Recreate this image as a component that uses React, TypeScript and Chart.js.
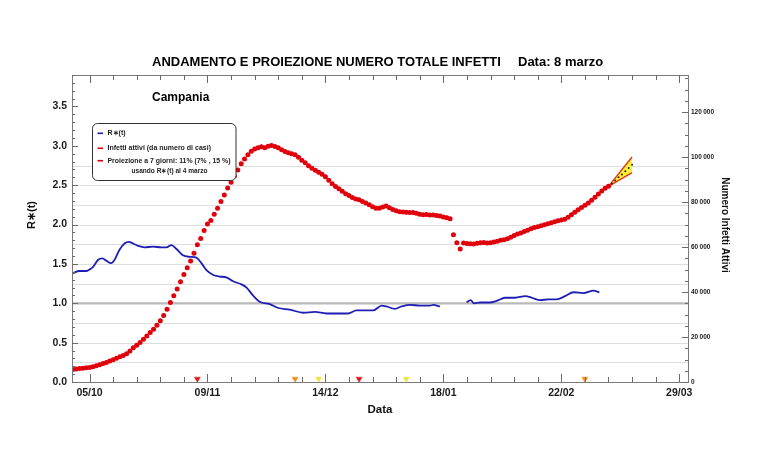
import React, { useEffect, useRef } from "react";
import { Chart, registerables } from "chart.js";

Chart.register(...registerables);

// ---- text ----
const TITLE = "ANDAMENTO E PROIEZIONE NUMERO TOTALE INFETTI";
const TITLE_DATE = "Data: 8 marzo";
const REGION = "Campania";
const X_TITLE = "Data";
const Y_TITLE = "R\u2217(t)";
const Y2_TITLE = "Numero Infetti Attivi";
const LEGEND_R = "R\u2217(t)";
const LEGEND_ACTIVE = "Infetti attivi (da numero di casi)";
const LEGEND_PROJ = "Proiezione a 7 giorni: 11% (7% , 15 %)";
const LEGEND_PROJ_2 = "usando R\u2217(t) al 4 marzo";

// ---- x axis: days counted from 05/10 ----
const X_MIN = -5.2;
const X_MAX = 177.6;
const X_TICK_DAYS = [0, 35, 70, 105, 140, 175];
const X_TICK_LABELS = ["05/10", "09/11", "14/12", "18/01", "22/02", "29/03"];

// ---- left axis (R) ----
const Y_TICKS = [0, 0.5, 1, 1.5, 2, 2.5, 3, 3.5];
const Y_MAX = 3.9;
// ---- right axis (active cases, thousands) ----
const Y2_TICKS = [0, 20, 40, 60, 80, 100, 120];
const Y2_MAX = 136.5;

// ---- active infections, one value per day (thousands) ----
const ACTIVE_FIRST_DAY = -5;
const ACTIVE = [
  5.6, 5.8, 6.0, 6.1, 6.3, 6.5, 6.8, 7.2, 7.7, 8.2,
  8.7, 9.3, 9.9, 10.6, 11.2, 11.8, 12.6, 13.8, 15.2, 16.3,
  17.6, 19.0, 20.5, 22.0, 23.5, 25.2, 27.2, 29.6, 32.4, 35.3,
  38.4, 41.4, 44.6, 47.8, 50.8, 53.8, 57.3, 61.0, 63.8, 67.4,
  70.3, 71.8, 74.6, 77.2, 80.3, 83.2, 86.3, 88.8, 91.6, 94.3,
  97.0, 99.2, 101.0, 102.6, 103.6, 104.2, 104.6, 104.2, 104.8, 105.1,
  104.7, 104.1, 103.3, 102.5, 101.9, 101.5, 101.0, 99.9, 98.6, 97.5,
  96.2, 95.0, 94.1, 93.3, 92.4, 91.3, 89.7, 88.2, 86.9, 85.9,
  84.8, 83.7, 82.9, 82.0, 81.4, 81.0, 80.3, 79.6, 78.8, 77.9,
  77.3, 77.2, 77.8, 78.3, 77.5, 76.7, 76.1, 75.7, 75.6, 75.5,
  75.4, 75.4, 75.0, 74.6, 74.4, 74.5, 74.3, 74.3, 74.0, 73.8,
  73.4, 73.0, 72.6, 65.5, 61.9, 59.1, 61.8, 61.6, 61.5, 61.4,
  61.7, 61.9, 62.0, 61.8, 61.9, 62.2, 62.6, 63.0, 63.3, 63.7,
  64.4, 65.1, 65.8, 66.3, 66.9, 67.5, 68.1, 68.7, 69.0, 69.5,
  69.9, 70.4, 70.8, 71.3, 71.7, 72.0, 72.4, 73.3, 74.4, 75.5,
  76.6, 77.6, 78.6, 79.6, 80.8, 82.2, 83.6, 84.9, 86.2, 87.0,
];

// ---- R*(t) ----
const R_DAYS = [
  -5, -3, -1, 0, 1, 2.5, 3.8, 5, 6.4, 7.4, 8.9, 10.4, 11.7, 12.9, 14.4, 16.3,
  18.8, 21.3, 22.8, 24.3, 25.8, 27.7, 29.7, 31.7, 33.2, 34.7, 36.7, 38.6, 40.6,
  42.6, 45.1, 46.6, 48.5, 50.5, 53.5, 56, 59.4, 63.4, 66.9, 70.3, 73.3, 76.7,
  79.2, 82.2, 84.2, 86.7, 88.1, 90.6, 92.6, 95.1, 98, 101, 102, 104,
  108,
  111.9, 113.1, 114.1, 115.9, 118.8, 120.8, 123.3, 126.3, 129.3, 131.3, 133.7,
  136.2, 138.6, 141.1, 143.6, 146.6, 149.5, 151.3,
];
const R_VALUES = [
  1.38, 1.41, 1.41, 1.43, 1.46, 1.55, 1.57, 1.54, 1.51, 1.55, 1.68, 1.76, 1.78, 1.76, 1.73, 1.71,
  1.72, 1.71, 1.71, 1.74, 1.69, 1.61, 1.59, 1.58, 1.51, 1.42, 1.36, 1.34, 1.33,
  1.28, 1.24, 1.2, 1.1, 1.02, 0.99, 0.94, 0.92, 0.88, 0.89, 0.87, 0.87, 0.87,
  0.91, 0.91, 0.91, 0.97, 0.96, 0.93, 0.96, 0.98, 0.97, 0.97, 0.98, 0.96,
  null,
  1.01, 1.04, 1.0, 1.01, 1.01, 1.03, 1.07, 1.07, 1.09, 1.07, 1.04,
  1.05, 1.05, 1.09, 1.14, 1.13, 1.16, 1.14,
];

// ---- 7-day projection ----
const PROJ_DAYS = 7;
const PROJ_LOW = 0.07;
const PROJ_HIGH = 0.15;
const PROJ_MID = [88.3, 89.6, 91.0, 92.3, 93.7, 95.1, 96.6];

// ---- restriction markers ----
const MARK_DAYS = [32, 61, 68, 80, 94, 147];
const MARK_COLORS = ["#e3101e", "#f08a1c", "#ece43a", "#e3101e", "#ece43a", "#f08a1c"];

const FONT = "'Liberation Sans', Arial, Helvetica, sans-serif";
const RED = "#e0000c";
const BLUE = "#1e1eb4";

const framePlugin = {
  id: "frame",
  beforeDatasetsDraw(chart: any) {
    const { ctx, chartArea: a, scales } = chart;
    const y = scales.y;
    ctx.save();
    for (let v = 0.25; v <= 2.76; v += 0.25) {
      if (Math.abs(v - 1) < 1e-6) continue;
      const py = Math.round(y.getPixelForValue(v)) + 0.5;
      ctx.strokeStyle = "#dedede";
      ctx.lineWidth = 1;
      ctx.beginPath();
      ctx.moveTo(a.left, py);
      ctx.lineTo(a.right, py);
      ctx.stroke();
    }
    const p1 = y.getPixelForValue(1);
    ctx.strokeStyle = "#b9b9b9";
    ctx.lineWidth = 2.2;
    ctx.beginPath();
    ctx.moveTo(a.left, p1);
    ctx.lineTo(a.right, p1);
    ctx.stroke();
    ctx.restore();
  },
  afterDatasetsDraw(chart: any) {
    const { ctx, chartArea: a, scales } = chart;
    const x = scales.x;
    const y = scales.y;
    const y2 = scales.y2;
    ctx.save();

    // frame
    ctx.strokeStyle = "#7a7a7a";
    ctx.lineWidth = 1;
    ctx.strokeRect(Math.round(a.left) + 0.5, Math.round(a.top) + 0.5, Math.round(a.right - a.left), Math.round(a.bottom - a.top));

    // x ticks, every week; longer at labelled dates
    ctx.strokeStyle = "#6a6a6a";
    for (let d = 0; d <= X_MAX; d += 7) {
      const px = Math.round(x.getPixelForValue(d)) + 0.5;
      const len = d % 35 === 0 ? 8 : 5;
      ctx.beginPath();
      ctx.moveTo(px, a.bottom);
      ctx.lineTo(px, a.bottom - len);
      ctx.moveTo(px, a.top);
      ctx.lineTo(px, a.top + len);
      ctx.stroke();
    }
    // left ticks
    for (let i = 0; i <= 39; i++) {
      const v = i / 10;
      const py = Math.round(y.getPixelForValue(v)) + 0.5;
      const len = i % 5 === 0 ? 6 : 3;
      ctx.beginPath();
      ctx.moveTo(a.left, py);
      ctx.lineTo(a.left + len, py);
      ctx.stroke();
    }
    // right ticks
    for (let v = 0; v <= Y2_MAX; v += 5) {
      const py = Math.round(y2.getPixelForValue(v)) + 0.5;
      const len = v % 20 === 0 ? 6 : 3;
      ctx.beginPath();
      ctx.moveTo(a.right, py);
      ctx.lineTo(a.right - len, py);
      ctx.stroke();
    }

    // tick labels
    ctx.fillStyle = "#1a1a1a";
    ctx.textBaseline = "middle";
    ctx.font = `bold 10.5px ${FONT}`;
    ctx.textAlign = "center";
    X_TICK_DAYS.forEach((d, i) => {
      ctx.fillText(X_TICK_LABELS[i], x.getPixelForValue(d), 393);
    });
    ctx.textAlign = "right";
    Y_TICKS.forEach((v) => {
      ctx.fillText(v.toFixed(1), 67, y.getPixelForValue(v));
    });
    ctx.textAlign = "left";
    ctx.font = `bold 6.5px ${FONT}`;
    Y2_TICKS.forEach((v) => {
      const s = v === 0 ? "0" : `${v}\u2009000`;
      ctx.fillText(s, 691, y2.getPixelForValue(v));
    });

    // axis titles
    ctx.fillStyle = "#111";
    ctx.font = `bold 11.5px ${FONT}`;
    ctx.textAlign = "center";
    ctx.fillText(X_TITLE, 380, 410);
    ctx.save();
    ctx.translate(32, 215);
    ctx.rotate(-Math.PI / 2);
    ctx.font = `bold 11px ${FONT}`;
    ctx.fillText(Y_TITLE, 0, 0);
    ctx.restore();
    ctx.save();
    ctx.translate(725, 225);
    ctx.rotate(Math.PI / 2);
    ctx.font = `bold 10px ${FONT}`;
    ctx.fillText(Y2_TITLE, 0, 0);
    ctx.restore();

    // main title and region
    ctx.fillStyle = "#000";
    ctx.textAlign = "left";
    ctx.font = `bold 13px ${FONT}`;
    ctx.fillText(TITLE, 152, 62, 349);
    ctx.fillText(TITLE_DATE, 518, 62, 89);
    ctx.font = `bold 12px ${FONT}`;
    ctx.fillText(REGION, 152, 98);

    // legend box
    ctx.beginPath();
    ctx.roundRect(92.5, 123.5, 143.5, 57, 5);
    ctx.fillStyle = "#fff";
    ctx.fill();
    ctx.strokeStyle = "#333";
    ctx.lineWidth = 1;
    ctx.stroke();
    const rows: [string, string, number][] = [
      [BLUE, LEGEND_R, 133.3],
      [RED, LEGEND_ACTIVE, 148.3],
      [RED, LEGEND_PROJ, 160.7],
    ];
    ctx.font = `bold 7px ${FONT}`;
    ctx.lineWidth = 1.6;
    rows.forEach(([c, t, ry]) => {
      ctx.strokeStyle = c;
      ctx.beginPath();
      ctx.moveTo(97.5, ry);
      ctx.lineTo(103, ry);
      ctx.stroke();
      ctx.fillStyle = "#222";
      ctx.textAlign = "left";
      ctx.fillText(t, 107.5, ry, t === LEGEND_PROJ ? 123 : 110);
    });
    ctx.textAlign = "center";
    ctx.fillText(LEGEND_PROJ_2, 169.5, 170.7, 76);
    ctx.restore();
  },
};

export default function App() {
  const ref = useRef<HTMLCanvasElement | null>(null);

  useEffect(() => {
    if (!ref.current) return;
    const activePts = ACTIVE.map((v, i) => ({ x: ACTIVE_FIRST_DAY + i, y: v }));
    const rPts = R_DAYS.map((d, i) => ({ x: d, y: R_VALUES[i] }));
    const lastDay = ACTIVE_FIRST_DAY + ACTIVE.length - 1;
    const base = ACTIVE[ACTIVE.length - 1];
    const endDay = lastDay + PROJ_DAYS;
    const highPts = [{ x: lastDay, y: base }, { x: endDay, y: base * (1 + PROJ_HIGH) }];
    const lowPts = [{ x: lastDay, y: base }, { x: endDay, y: base * (1 + PROJ_LOW) }];
    const midPts = PROJ_MID.map((v, i) => ({ x: lastDay + 1 + i, y: v }));
    const markPts = MARK_DAYS.map((d) => ({ x: d, y: 0.04 }));

    const chart = new Chart(ref.current, {
      type: "line",
      data: {
        datasets: [
          {
            data: highPts,
            yAxisID: "y2",
            borderColor: "#e5380c",
            borderWidth: 1.4,
            pointRadius: 0,
            fill: "+1",
            backgroundColor: "#fff23a",
            order: 6,
          },
          {
            data: lowPts,
            yAxisID: "y2",
            borderColor: "#e5380c",
            borderWidth: 1.4,
            pointRadius: 0,
            fill: false,
            order: 5,
          },
          {
            data: midPts,
            yAxisID: "y2",
            showLine: false,
            pointRadius: 1,
            pointBackgroundColor: "#222",
            pointBorderWidth: 0,
            order: 4,
          },
          {
            data: rPts,
            yAxisID: "y",
            borderColor: BLUE,
            borderWidth: 1.8,
            pointRadius: 0,
            cubicInterpolationMode: "monotone",
            spanGaps: false,
            order: 3,
          },
          {
            data: activePts,
            yAxisID: "y2",
            showLine: false,
            pointRadius: 2.5,
            pointBackgroundColor: RED,
            pointBorderWidth: 0,
            order: 2,
          },
          {
            data: markPts,
            yAxisID: "y",
            showLine: false,
            pointStyle: "triangle",
            rotation: 180,
            pointRadius: 3.4,
            pointBackgroundColor: MARK_COLORS,
            pointBorderColor: MARK_COLORS,
            pointBorderWidth: 0.5,
            order: 1,
          },
        ] as any,
      },
      options: {
        animation: false,
        responsive: false,
        devicePixelRatio: 1,
        layout: { padding: { left: 72, right: 79, top: 75, bottom: 70 } },
        plugins: { legend: { display: false }, tooltip: { enabled: false }, title: { display: false } },
        scales: {
          x: { type: "linear", min: X_MIN, max: X_MAX, display: false },
          y: { type: "linear", min: 0, max: Y_MAX, display: false },
          y2: { type: "linear", min: 0, max: Y2_MAX, display: false, position: "right" },
        },
      },
      plugins: [framePlugin],
    });
    return () => chart.destroy();
  }, []);

  return (
    <div style={{ position: "fixed", left: 0, top: 0, width: 767, height: 452, background: "#fff" }}>
      <canvas ref={ref} width={767} height={452} />
    </div>
  );
}
